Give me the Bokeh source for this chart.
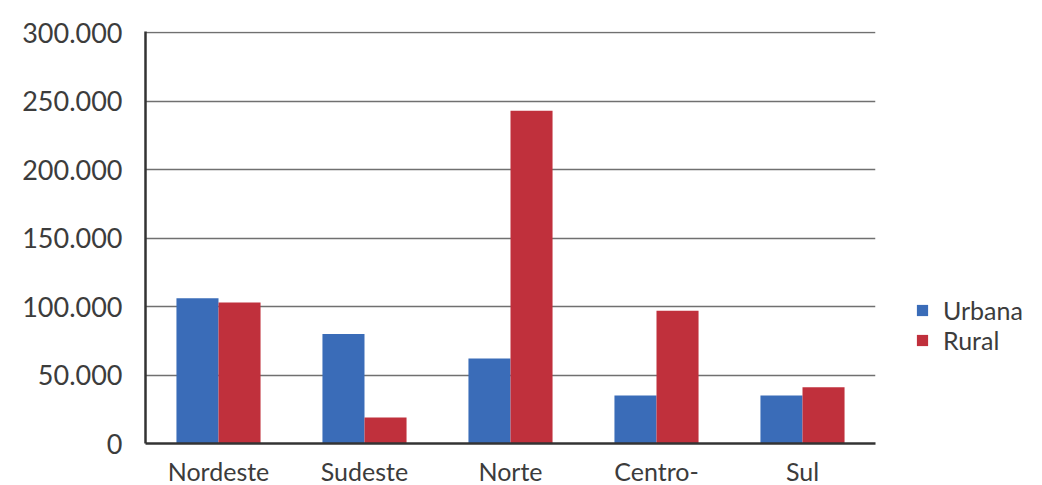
from bokeh.plotting import figure
from bokeh.models import ColumnDataSource, FactorRange, CustomJSTickFormatter, Legend, LegendItem, FixedTicker, Range1d
from bokeh.transform import dodge
from bokeh.embed import file_html
from bokeh.resources import INLINE

regioes = ["Nordeste", "Sudeste", "Norte", "Centro-", "Sul"]
urbana = [106000, 80000, 62000, 35000, 35000]
rural = [103000, 19000, 243000, 97000, 41000]
y_ticks = [0, 50000, 100000, 150000, 200000, 250000, 300000]

src = ColumnDataSource(dict(regiao=regioes, urbana=urbana, rural=rural))

FONT = "Lato"
TXT = "#3c3c3c"

p = figure(x_range=FactorRange(*regioes, range_padding=0), y_range=Range1d(0, 300800),
           frame_width=730, frame_height=412, output_backend="svg", toolbar_location=None,
           min_border_left=145, min_border_right=167, min_border_top=31, min_border_bottom=10)
p.outline_line_color = None
p.background_fill_color = "white"

bw = 0.288
r1 = p.vbar(x=dodge("regiao", -bw / 2, range=p.x_range), top="urbana", width=bw, source=src,
            fill_color="#3a6cb8", line_color=None)
r2 = p.vbar(x=dodge("regiao", bw / 2, range=p.x_range), top="rural", width=bw, source=src,
            fill_color="#c0303c", line_color=None)

p.xgrid.grid_line_color = None
p.ygrid.grid_line_color = "#707070"
p.ygrid.grid_line_width = 1.5
p.yaxis.ticker = FixedTicker(ticks=y_ticks)
p.yaxis.formatter = CustomJSTickFormatter(code="return tick == 0 ? '0' : (tick/1000).toFixed(0) + '.000';")

for ax in (p.xaxis, p.yaxis):
    ax.axis_line_color = "#333333"
    ax.axis_line_width = 2.5
    ax.major_tick_line_color = None
    ax.minor_tick_line_color = None
    ax.major_label_text_font = FONT
    ax.major_label_text_font_size = "27px"
    ax.major_label_text_color = TXT
p.yaxis.major_label_standoff = 17
p.xaxis.major_label_standoff = 6
p.xaxis.major_label_text_font_size = "25px"

legend = Legend(items=[LegendItem(label="Urbana", renderers=[r1]), LegendItem(label="Rural", renderers=[r2])],
                location=(40, 88), border_line_color=None, background_fill_alpha=0,
                glyph_width=14, glyph_height=14, label_text_font=FONT, label_text_font_size="25px",
                label_text_line_height=0.8, label_height=14,
                label_text_color=TXT, spacing=0, label_standoff=14)
p.add_layout(legend, "right")

open("out.html", "w").write(file_html(p, INLINE))
